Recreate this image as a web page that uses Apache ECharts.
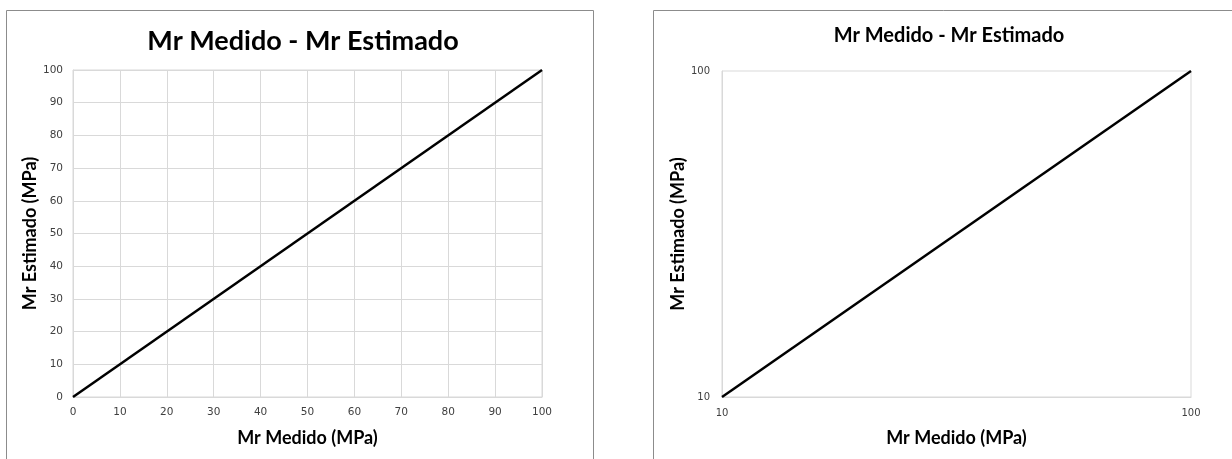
<!DOCTYPE html>
<html>
<head>
<meta charset="utf-8">
<script src="https://cdn.jsdelivr.net/npm/echarts@6/dist/echarts.min.js"></script>
<style>html,body{margin:0;padding:0;background:#fff;}#c{width:1232px;height:459px;}</style>
</head>
<body>
<div id="c"></div>
<script>
// Data
var titleText = 'Mr Medido - Mr Estimado';
var xAxisTitle = 'Mr Medido (MPa)';
var yAxisTitle = 'Mr Estimado (MPa)';
var leftMedido = [0, 100];
var leftEstimado = [0, 100];
var rightMedido = [10, 100];
var rightEstimado = [10, 100];

var chart = echarts.init(document.getElementById('c'));
var labelFont = 'DejaVu Sans';
var titleFont = 'Lato';
var gridGray = '#d9d9d9';

function pairs(xs, ys){ return xs.map(function(x,i){ return [x, ys[i]]; }); }

var nameStyle = {fontFamily:titleFont, fontWeight:'bold', fontSize:18, color:'#000'};

var option = {
  backgroundColor: '#fff',
  animation: false,
  graphic: [
    {type:'rect', shape:{x:6.5, y:10.5, width:587, height:460}, style:{fill:'none', stroke:'#8c8c8c', lineWidth:1}, silent:true},
    {type:'rect', shape:{x:653.5, y:10.5, width:600, height:460}, style:{fill:'none', stroke:'#8c8c8c', lineWidth:1}, silent:true}
  ],
  title: [
    {text:titleText, left:298, top:23, textAlign:'center', textStyle:{fontFamily:titleFont, fontWeight:'bold', fontSize:27, color:'#000'}},
    {text:titleText, left:944, top:21, textAlign:'center', textStyle:{fontFamily:titleFont, fontWeight:'bold', fontSize:20, color:'#000'}}
  ],
  grid: [
    {left:73, top:70, width:469, height:327, show:true, borderColor:gridGray, borderWidth:1, backgroundColor:'transparent'},
    {left:722, top:71, width:469, height:326, show:true, borderColor:gridGray, borderWidth:1, backgroundColor:'transparent'}
  ],
  xAxis: [
    {gridIndex:0, type:'value', min:0, max:100, interval:10,
     name:xAxisTitle, nameLocation:'middle', nameGap:32, nameTextStyle:nameStyle,
     axisLine:{show:true, lineStyle:{color:gridGray}}, axisTick:{show:false},
     axisLabel:{margin:10, fontFamily:labelFont, fontSize:10.5, color:'#404040'},
     splitLine:{show:true, lineStyle:{color:gridGray}}},
    {gridIndex:1, type:'log', logBase:10, min:10, max:100,
     name:xAxisTitle, nameLocation:'middle', nameGap:32, nameTextStyle:nameStyle,
     axisLine:{show:true, lineStyle:{color:gridGray}}, axisTick:{show:false},
     axisLabel:{margin:11, fontFamily:labelFont, fontSize:10, color:'#404040'},
     splitLine:{show:false}}
  ],
  yAxis: [
    {gridIndex:0, type:'value', min:0, max:100, interval:10,
     name:yAxisTitle, nameLocation:'middle', nameGap:34, nameRotate:90, nameTextStyle:nameStyle,
     axisLine:{show:true, lineStyle:{color:gridGray}}, axisTick:{show:false},
     axisLabel:{margin:10, fontFamily:labelFont, fontSize:10.5, color:'#404040'},
     splitLine:{show:true, lineStyle:{color:gridGray}}},
    {gridIndex:1, type:'log', logBase:10, min:10, max:100,
     name:yAxisTitle, nameLocation:'middle', nameGap:35, nameRotate:90, nameTextStyle:nameStyle,
     axisLine:{show:true, lineStyle:{color:gridGray}}, axisTick:{show:false},
     axisLabel:{margin:12, fontFamily:labelFont, fontSize:10, color:'#404040'},
     splitLine:{show:false}}
  ],
  series: [
    {type:'line', xAxisIndex:0, yAxisIndex:0, data:pairs(leftMedido, leftEstimado), showSymbol:false, symbol:'none', lineStyle:{color:'#000', width:2.5}},
    {type:'line', xAxisIndex:1, yAxisIndex:1, data:pairs(rightMedido, rightEstimado), showSymbol:false, symbol:'none', lineStyle:{color:'#000', width:2.5}}
  ]
};
chart.setOption(option);
</script>
</body>
</html>
